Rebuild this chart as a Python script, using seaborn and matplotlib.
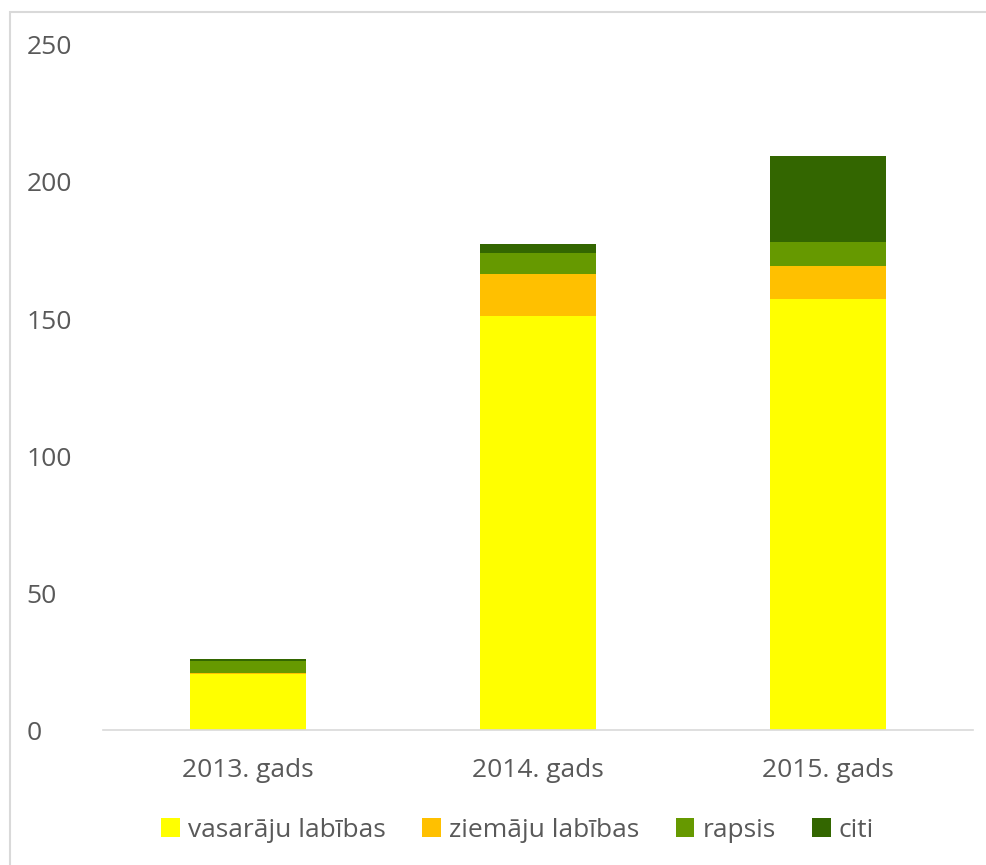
import matplotlib
matplotlib.use("Agg")
import matplotlib.pyplot as plt
import matplotlib.patches as mpatches
import seaborn as sns
import pandas as pd
import numpy as np

years = ["2013. gads", "2014. gads", "2015. gads"]
series = ["vasarāju labības", "ziemāju labības", "rapsis", "citi"]
vasaraju = [20.4, 151.1, 157.4]
ziemaju = [0.6, 15.3, 11.8]
rapsis = [4.2, 7.7, 9.0]
citi = [0.7, 3.2, 31.3]
colors = ["#FFFF00", "#FFC000", "#669900", "#336600"]
yticks = [0, 50, 100, 150, 200, 250]

sns.set_theme(style="white")
plt.rcParams["font.family"] = ["Open Sans", "DejaVu Sans"]

df = pd.DataFrame({"year": years, series[0]: vasaraju, series[1]: ziemaju,
                   series[2]: rapsis, series[3]: citi})
cum = df[series].cumsum(axis=1)
cum["year"] = years

fig = plt.figure(figsize=(9.86, 8.65), dpi=100)
ax = fig.add_axes([0.1045, 0.156, 0.8823, 0.792])

for s, c in reversed(list(zip(series, colors))):
    sns.barplot(data=cum, x="year", y=s, color=c, width=0.4, ax=ax,
                saturation=1, edgecolor="none", linewidth=0)

ax.set_ylim(0, 250)
ax.set_yticks(yticks)
ax.set_xlim(-0.5, 2.5)
ax.set_xlabel("")
ax.set_ylabel("")
for sp in ["top", "right", "left"]:
    ax.spines[sp].set_visible(False)
ax.spines["bottom"].set_color("#D9D9D9")
ax.spines["bottom"].set_linewidth(1.2)
ax.tick_params(axis="both", length=0, labelsize=19, labelcolor="#595959")
ax.tick_params(axis="y", pad=55)
ax.tick_params(axis="x", pad=20)
for lbl in ax.get_yticklabels():
    lbl.set_horizontalalignment("left")

handles = [mpatches.Patch(facecolor=c, edgecolor="none", label=s) for s, c in zip(series, colors)]
fig.legend(handles=handles, loc="center", bbox_to_anchor=(0.525, 0.04), ncol=4,
           frameon=False, fontsize=19, labelcolor="#595959", handlelength=0.7,
           handleheight=0.7, handletextpad=0.3, columnspacing=1.4)

border = mpatches.Rectangle((10 / 986, -0.05), 1.05, 1 - 12 / 865 + 0.05,
                            transform=fig.transFigure, fill=False,
                            edgecolor="#D9D9D9", linewidth=1.5)
fig.patches.append(border)

fig.savefig("out.png", dpi=100)
